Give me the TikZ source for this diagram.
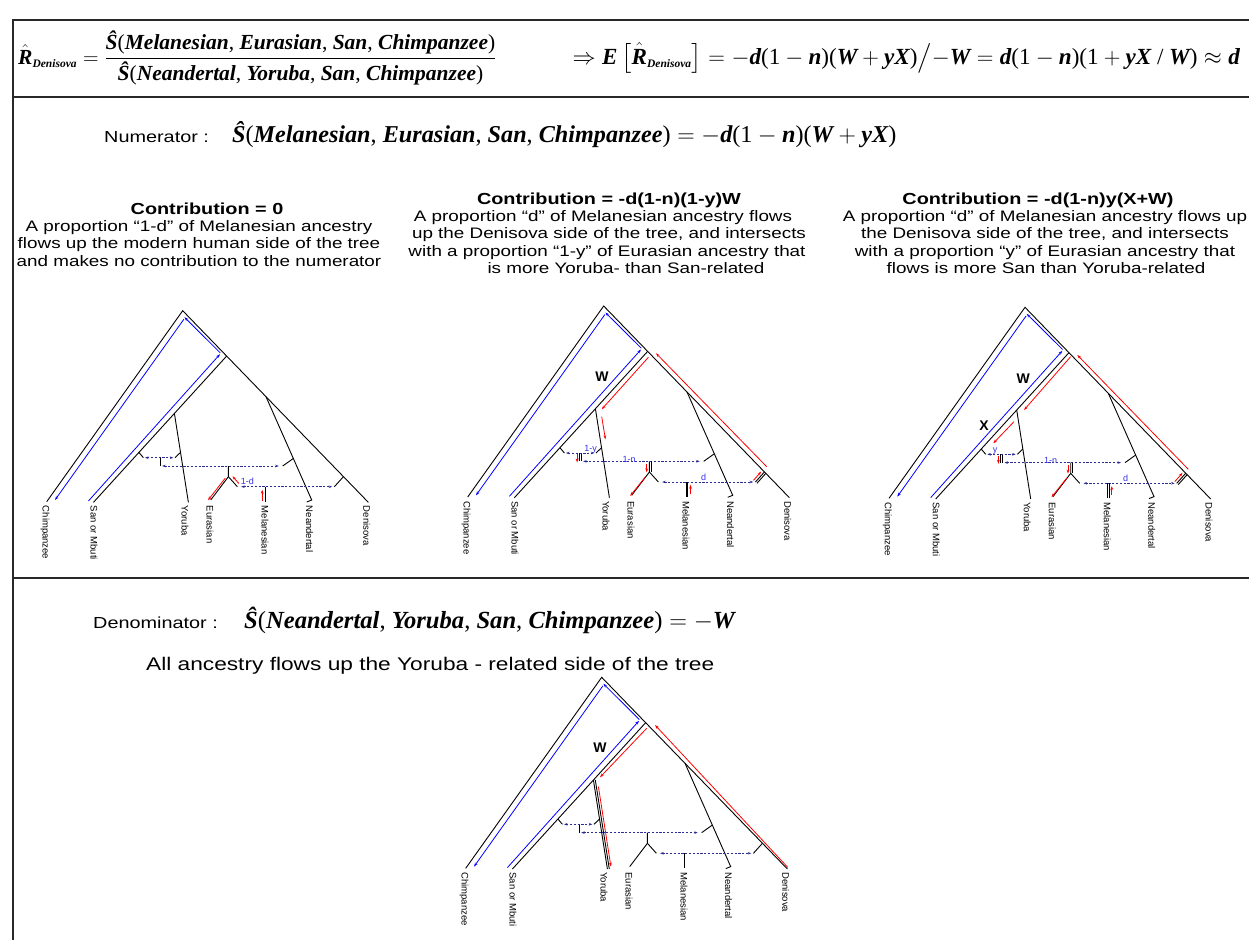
\RequirePackage{fix-cm}
\documentclass[tikz,border=0pt]{standalone}
\usepackage{amsmath}
\usepackage{fontspec}
\setmainfont{Liberation Sans}
\newfontfamily\arialw[FakeStretch=1.24]{Liberation Sans}
\newfontfamily\tms{Liberation Serif}
\usetikzlibrary{arrows.meta,calc}

\definecolor{flowblue}{RGB}{0,0,255}
\definecolor{flowred}{RGB}{255,0,0}
\definecolor{dashnavy}{RGB}{45,45,150}
\definecolor{lblblue}{RGB}{50,50,230}
\definecolor{framec}{RGB}{40,40,40}

\newcommand\B[1]{\mbox{\tms\bfseries\itshape #1}}
\newcommand\T[1]{\mbox{\tms #1}}
\newcommand\hatR{\hat{\B{R}}}

\tikzset{
 br/.style={line width=0.9pt, black},
 bl/.style={line width=0.8pt, flowblue, -{Stealth[length=4pt,width=2.8pt]}},
 rd/.style={line width=0.8pt, flowred, -{Stealth[length=4pt,width=2.8pt]}},
 adm/.style={line width=0.8pt, dashnavy, dash pattern=on 2.2pt off 1.6pt, {Stealth[length=3.5pt,width=2.6pt]}-{Stealth[length=3.5pt,width=2.6pt]}},
 leaf/.style={rotate=-90, anchor=west, inner sep=0pt, font=\fontsize{9.5}{10}\selectfont},
 amt/.style={text=lblblue, inner sep=0pt, font=\fontsize{9}{10}\selectfont},
 brl/.style={font=\fontsize{14}{16}\selectfont\bfseries, inner sep=0pt},
 boxline/.style={line width=1.6pt, framec},
 desc/.style={anchor=base, inner sep=0pt, font=\arialw\fontsize{15.2}{17}\selectfont},
 chead/.style={anchor=base, inner sep=0pt, font=\arialw\bfseries\fontsize{16}{19}\selectfont},
}

\newcommand\skel[1]{%
 \coordinate (#1A) at (0,0);
 \coordinate (#1C) at (-136,191);
 \coordinate (#1D) at (185.7,191.7);
 \coordinate (#1H) at (44,45.3);
 \coordinate (#1S) at (-89.3,191.7);
 \coordinate (#1ND) at (83.3,86);
 \coordinate (#1N) at (129,189.3);
 \coordinate (#1Nh) at (124,191.3);
 \coordinate (#1Yn) at (-8.3,102.7);
 \coordinate (#1Y) at (5.7,191.7);
 \coordinate (#1EMt) at (45.7,155.3);
 \coordinate (#1EM) at (45.7,166);
 \coordinate (#1E) at (28,189.3);
 \coordinate (#1R) at (54.7,176);
 \coordinate (#1Mt) at (82.3,176);
 \coordinate (#1M) at (82.3,191);
 \coordinate (#1dL) at (58.5,176);
 \coordinate (#1dR) at (149.5,176);
 \coordinate (#1Dt) at (160.7,166);
 \coordinate (#1Dte) at (151.7,176);
 \coordinate (#1nL) at (-20.5,155.3);
 \coordinate (#1nR) at (96,155.3);
 \coordinate (#1Nt) at (110.7,147.7);
 \coordinate (#1Nte) at (100,155.3);
 \coordinate (#1Lt) at (-22.7,147);
 \coordinate (#1Lte) at (-22.7,155.3);
 \coordinate (#1yL) at (-37.7,147);
 \coordinate (#1yR) at (-9.4,147);
 \coordinate (#1St) at (-43.8,141.7);
 \coordinate (#1Ste) at (-39.3,147);
 \coordinate (#1Yt) at (-2.2,141.7);
 \coordinate (#1Yte) at (-7.7,147);
 \draw[br] (#1C) -- (#1A) -- (#1D);
 \draw[br] (#1H) -- (#1S);
 \draw[br] (#1ND) -- (#1N) -- (#1Nh);
 \draw[br] (#1Yn) -- (#1Y);
 \draw[br] (#1EMt) -- (#1EM) -- (#1E);
 \draw[br] (#1EM) -- (#1R);
 \draw[br] (#1Mt) -- (#1M);
 \draw[br] (#1Dt) -- (#1Dte);
 \draw[br] (#1Nt) -- (#1Nte);
 \draw[br] (#1Lt) -- (#1Lte);
 \draw[br] (#1St) -- (#1Ste);
 \draw[br] (#1Yt) -- (#1Yte);
 \draw[adm] (#1yL) -- (#1yR);
 \draw[adm] (#1nL) -- (#1nR);
 \draw[adm] (#1dL) -- (#1dR);
 \node[leaf] (#1lC) at (-137.7,195) {Chimpanzee};
 \node[leaf] (#1lS) at (-88.7,195) {San or Mbuti};
 \node[leaf] (#1lY) at (2.3,195) {Yoruba};
 \node[leaf] (#1lE) at (27.3,195) {Eurasian};
 \node[leaf] (#1lM) at (82.3,195) {Melanesian};
 \node[leaf] (#1lN) at (126.7,195) {Neandertal};
 \node[leaf] (#1lD) at (184,195) {Denisova};
}

\newcommand\blueflow{%
 \draw[bl] (-94.3,190.3) -- (37.3,43.5);
 \draw[bl] (37.6,42.2) -- (1.7,6.5);
 \draw[bl] (1.2,8.5) -- (-127.7,189.3);
}

% doubled admixture ticks with red flows (trees 2 and 3)
\newcommand\admixflow{%
 \draw[br] (-24.4,147) -- (-24.4,155.3);
 \draw[rd] (-26.6,148.3) -- (-26.6,156.5);
 \draw[br] (47.5,155.3) -- (47.5,166);
 \draw[rd] (43,157.5) -- (43,166.3);
 \draw[rd] (42,170.5) -- (26.5,189.8);
 \draw[br] (84.2,176) -- (84.2,191);
 \draw[rd] (86.8,188) -- (86.8,178.8);
 \draw[br] (153.2,177.3) -- (162.2,167.3);
 \draw[rd] (149.8,174.3) -- (157.5,165.6);
}

\begin{document}
\begin{tikzpicture}[x=1pt,y=-1pt]
\useasboundingbox (0,0) rectangle (1249,940);

% frame
\coordinate (fTR) at (1249,20);
\coordinate (fTL) at (13,20);
\coordinate (fBL) at (13,940);
\coordinate (s1L) at (13,97);
\coordinate (s1R) at (1249,97);
\coordinate (s2L) at (13,578);
\coordinate (s2R) at (1249,578);
\draw[boxline] (fTR) -- (fTL) -- (fBL);
\draw[boxline] (s1L) -- (s1R);
\draw[boxline] (s2L) -- (s2R);

% header formula
\node[anchor=west, inner sep=0pt] (hdrL) at (18,58) {\fontsize{21.5}{25}\selectfont
 $\displaystyle \hatR_{\mbox{\fontsize{11.5}{13}\selectfont\tms\bfseries\itshape Denisova}} = \frac{\B{Ŝ}\T{(}\B{Melanesian}\T{, }\B{Eurasian}\T{, }\B{San}\T{, }\B{Chimpanzee}\T{)}}{\B{Ŝ}\T{(}\B{Neandertal}\T{, }\B{Yoruba}\T{, }\B{San}\T{, }\B{Chimpanzee}\T{)}}$};
\node[anchor=east, inner sep=0pt] (hdrR) at (1240,58) {\fontsize{23.1}{27}\selectfont
 $\Rightarrow \B{E}\left[\hatR_{\mbox{\fontsize{11.5}{13}\selectfont\tms\bfseries\itshape Denisova}}\right] = -\B{d}\T{(1}-\B{n}\T{)(}\B{W}+\B{yX}\T{)}\big/{-}\B{W} = \B{d}\T{(1}-\B{n}\T{)(1}+\B{yX}\T{ / }\B{W}\T{)} \approx \B{d}$};

% numerator line
\node[anchor=base west, inner sep=0pt, font=\arialw\fontsize{16}{19}\selectfont] (numlab) at (104,142) {Numerator :};
\node[anchor=base west, inner sep=0pt] (numf) at (232,142) {\fontsize{24.2}{28}\selectfont
 $\B{Ŝ}\T{(}\B{Melanesian}\T{, }\B{Eurasian}\T{, }\B{San}\T{, }\B{Chimpanzee}\T{)} = -\B{d}\T{(1}-\B{n}\T{)(}\B{W}+\B{yX}\T{)}$};

% column 1 text
\node[chead] (c1h) at (207,214) {Contribution = 0};
\node[desc] (c1a) at (199,231) {A proportion “1-d” of Melanesian ancestry};
\node[desc] (c1b) at (199,248.5) {flows up the modern human side of the tree};
\node[desc] (c1c) at (199,266) {and makes no contribution to the numerator};
% column 2 text
\node[chead] (c2h) at (609,204) {Contribution = -d(1-n)(1-y)W};
\node[desc] (c2a) at (603,221) {A proportion “d” of Melanesian ancestry flows};
\node[desc] (c2b) at (609,238.5) {up the Denisova side of the tree, and intersects};
\node[desc] (c2c) at (607,256) {with a proportion “1-y” of Eurasian ancestry that};
\node[desc] (c2d) at (626,273.5) {is more Yoruba- than San-related};
% column 3 text
\node[chead] (c3h) at (1038,204) {Contribution = -d(1-n)y(X+W)};
\node[desc] (c3a) at (1045,221) {A proportion “d” of Melanesian ancestry flows up};
\node[desc] (c3b) at (1045,238.5) {the Denisova side of the tree, and intersects};
\node[desc] (c3c) at (1045,256) {with a proportion “y” of Eurasian ancestry that};
\node[desc] (c3d) at (1046,273.5) {flows is more San than Yoruba-related};

% tree 1
\begin{scope}[shift={(182.7,310.7)}]
 \skel{a}
 \blueflow
 \draw[rd] (42.5,167.5) -- (25.3,189.5);
 \draw[rd] (56.2,172.8) -- (49.8,165.6);
 \draw[rd] (79.5,190) -- (79.5,179);
 \node[amt] (a1d) at (64.7,170.3) {1-d};
\end{scope}

% tree 2
\begin{scope}[shift={(603.7,306)}]
 \skel{b}
 \blueflow
 \draw[rd] (44.7,51.3) -- (-2,103.3);
 \draw[rd] (-2,110.7) -- (1.7,133.3);
 \draw[rd] (163,160.7) -- (52.3,47.3);
 \admixflow
 \node[brl] (bW) at (-1.7,70.7) {W};
 \node[amt] (b1y) at (-13,143.5) {1-y};
 \node[amt] (b1n) at (25.5,153) {1-n};
 \node[amt] (bd) at (100,171) {d};
\end{scope}

% tree 3
\begin{scope}[shift={(1025,307.3)}]
 \skel{c}
 \blueflow
 \draw[rd] (45.7,49.3) -- (-1,102.7);
 \draw[rd] (-11,114.3) -- (-31.7,136);
 \draw[rd] (163.3,162) -- (52.3,47.7);
 \admixflow
 \node[brl] (cW) at (-1.7,71) {W};
 \node[brl] (cX) at (-41,118.7) {X};
 \node[amt] (cy) at (-30,143.5) {y};
 \node[amt] (c1n) at (25.5,153) {1-n};
 \node[amt] (cd) at (100.5,171) {d};
\end{scope}

% denominator
\node[anchor=base west, inner sep=0pt, font=\arialw\fontsize{16}{19}\selectfont] (denlab) at (93,628) {Denominator :};
\node[anchor=base west, inner sep=0pt] (denf) at (244,628) {\fontsize{24.6}{28}\selectfont
 $\B{Ŝ}\T{(}\B{Neandertal}\T{, }\B{Yoruba}\T{, }\B{San}\T{, }\B{Chimpanzee}\T{)} = -\B{W}$};
\node[anchor=base west, inner sep=0pt, font=\arialw\fontsize{18.3}{21}\selectfont] (allanc) at (146,670) {All ancestry flows up the Yoruba - related side of the tree};

% tree 4
\begin{scope}[shift={(601.7,677.3)}]
 \skel{d}
 \blueflow
 \draw[rd] (45,51) -- (-1.7,100);
 \draw[br] (-6.4,102.7) -- (7.6,191.7);
 \draw[rd] (-3.3,109.3) -- (9.2,189.3);
 \draw[rd] (186,190) -- (53.3,47.7);
 \node[brl] (dW) at (-1.7,70) {W};
\end{scope}
\end{tikzpicture}
\end{document}
